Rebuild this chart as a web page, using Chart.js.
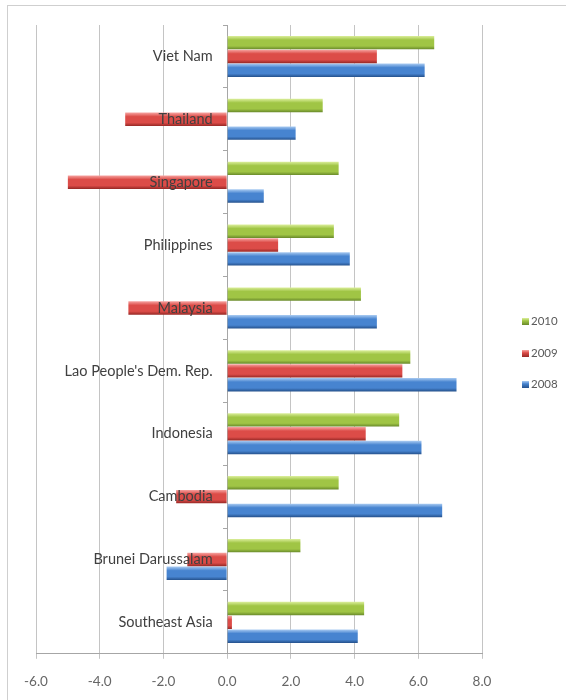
<!DOCTYPE html>
<html>
<head>
<meta charset="utf-8">
<script src="https://cdn.jsdelivr.net/npm/chart.js@4"></script>
<style>
  html, body { margin: 0; padding: 0; background: #fff; }
  #wrap { position: relative; width: 566px; height: 700px; overflow: hidden; }
  #frame { position: absolute; left: 7px; top: 5px; width: 600px; height: 720px;
           border-left: 1px solid #cfcfcf; border-top: 1px solid #cfcfcf; }
  #box { position: absolute; left: 0; top: 0; width: 566px; height: 706px; }
  #legend { position: absolute; left: 522px; top: 314px; font-family: Lato, sans-serif;
            font-size: 11.5px; color: #595959; }
  #legend .item { height: 31.5px; display: flex; align-items: flex-start; line-height: 14px; white-space: nowrap; }
  #legend .sw { width: 7px; height: 7px; margin-top: 4px; margin-right: 2px; }
</style>
</head>
<body>
<div id="wrap">
  <div id="frame"></div>
  <div id="box"><canvas id="c"></canvas></div>
  <div id="legend"></div>
</div>
<script>
const categories = ["Viet Nam", "Thailand", "Singapore", "Philippines", "Malaysia",
  "Lao People's Dem. Rep.", "Indonesia", "Cambodia", "Brunei Darussalam", "Southeast Asia"];
const seriesNames = ["2010", "2009", "2008"];
const values2010 = [6.5, 3.0, 3.5, 3.35, 4.2, 5.75, 5.4, 3.5, 2.3, 4.3];
const values2009 = [4.7, -3.2, -5.0, 1.6, -3.1, 5.5, 4.35, -1.6, -1.25, 0.15];
const values2008 = [6.2, 2.15, 1.15, 3.85, 4.7, 7.2, 6.1, 6.75, -1.9, 4.1];
const xTicks = [-6, -4, -2, 0, 2, 4, 6, 8];

const palette = [
  { light: '#dcef9c', base: '#a0c545', dark: '#68892a' },
  { light: '#f7a4a1', base: '#dc4c48', dark: '#962825' },
  { light: '#a9cbf2', base: '#4784d0', dark: '#25518c' }
];

const glossPlugin = {
  id: 'gloss',
  beforeDatasetsDraw(chart) {
    const ctx = chart.ctx;
    chart.data.datasets.forEach((ds, di) => {
      const meta = chart.getDatasetMeta(di);
      const p = palette[di];
      meta.data.forEach(el => {
        const h = el.height;
        const top = el.y - h / 2;
        const g = ctx.createLinearGradient(0, top, 0, top + h);
        g.addColorStop(0, p.light);
        g.addColorStop(0.3, p.base);
        g.addColorStop(0.75, p.base);
        g.addColorStop(1, p.dark);
        el.options = Object.assign({}, el.options, { backgroundColor: g });
      });
    });
  }
};

const seriesValues = [values2010, values2009, values2008];

const chart = new Chart(document.getElementById('c'), {
  type: 'bar',
  data: {
    labels: categories,
    datasets: seriesNames.map((n, i) => ({
      label: n,
      data: seriesValues[i],
      backgroundColor: palette[i].base,
      borderWidth: 0,
      categoryPercentage: 0.66,
      barPercentage: 0.97
    }))
  },
  options: {
    indexAxis: 'y',
    responsive: true,
    maintainAspectRatio: false,
    animation: false,
    layout: { padding: { left: 36, right: 84, top: 25, bottom: 1 } },
    plugins: {
      legend: { display: false },
      tooltip: { enabled: false }
    },
    scales: {
      x: {
        min: -6, max: 8,
        afterBuildTicks(axis) { axis.ticks = xTicks.map(v => ({ value: v })); },
        ticks: {
          padding: 15,
          color: '#666666',
          font: { family: 'Lato', size: 13.5 },
          callback: v => Number(v).toFixed(1)
        },
        grid: { color: '#c4c4c4', tickLength: 5, tickColor: '#c4c4c4' },
        border: { color: '#a6a6a6' }
      },
      y: {
        position: { x: 0 },
        ticks: {
          z: 1,
          padding: 10,
          color: '#404040',
          font: { family: 'Lato', size: 14.5 },
          callback: function (v) { return this.getLabelForValue(v) + '\u2002\u2002'; }
        },
        grid: { drawOnChartArea: false, tickLength: 4, color: '#a6a6a6', offset: true },
        border: { color: '#a6a6a6' }
      }
    }
  },
  plugins: [glossPlugin]
});

// HTML legend built from the chart's datasets
const legendEl = document.getElementById('legend');
chart.data.datasets.forEach((ds, i) => {
  const item = document.createElement('div');
  item.className = 'item';
  const sw = document.createElement('span');
  sw.className = 'sw';
  sw.style.background = 'linear-gradient(' + palette[i].light + ',' + palette[i].base + ' 40%,' + palette[i].dark + ')';
  const tx = document.createElement('span');
  tx.textContent = ds.label;
  item.appendChild(sw);
  item.appendChild(tx);
  legendEl.appendChild(item);
});
</script>
</body>
</html>
